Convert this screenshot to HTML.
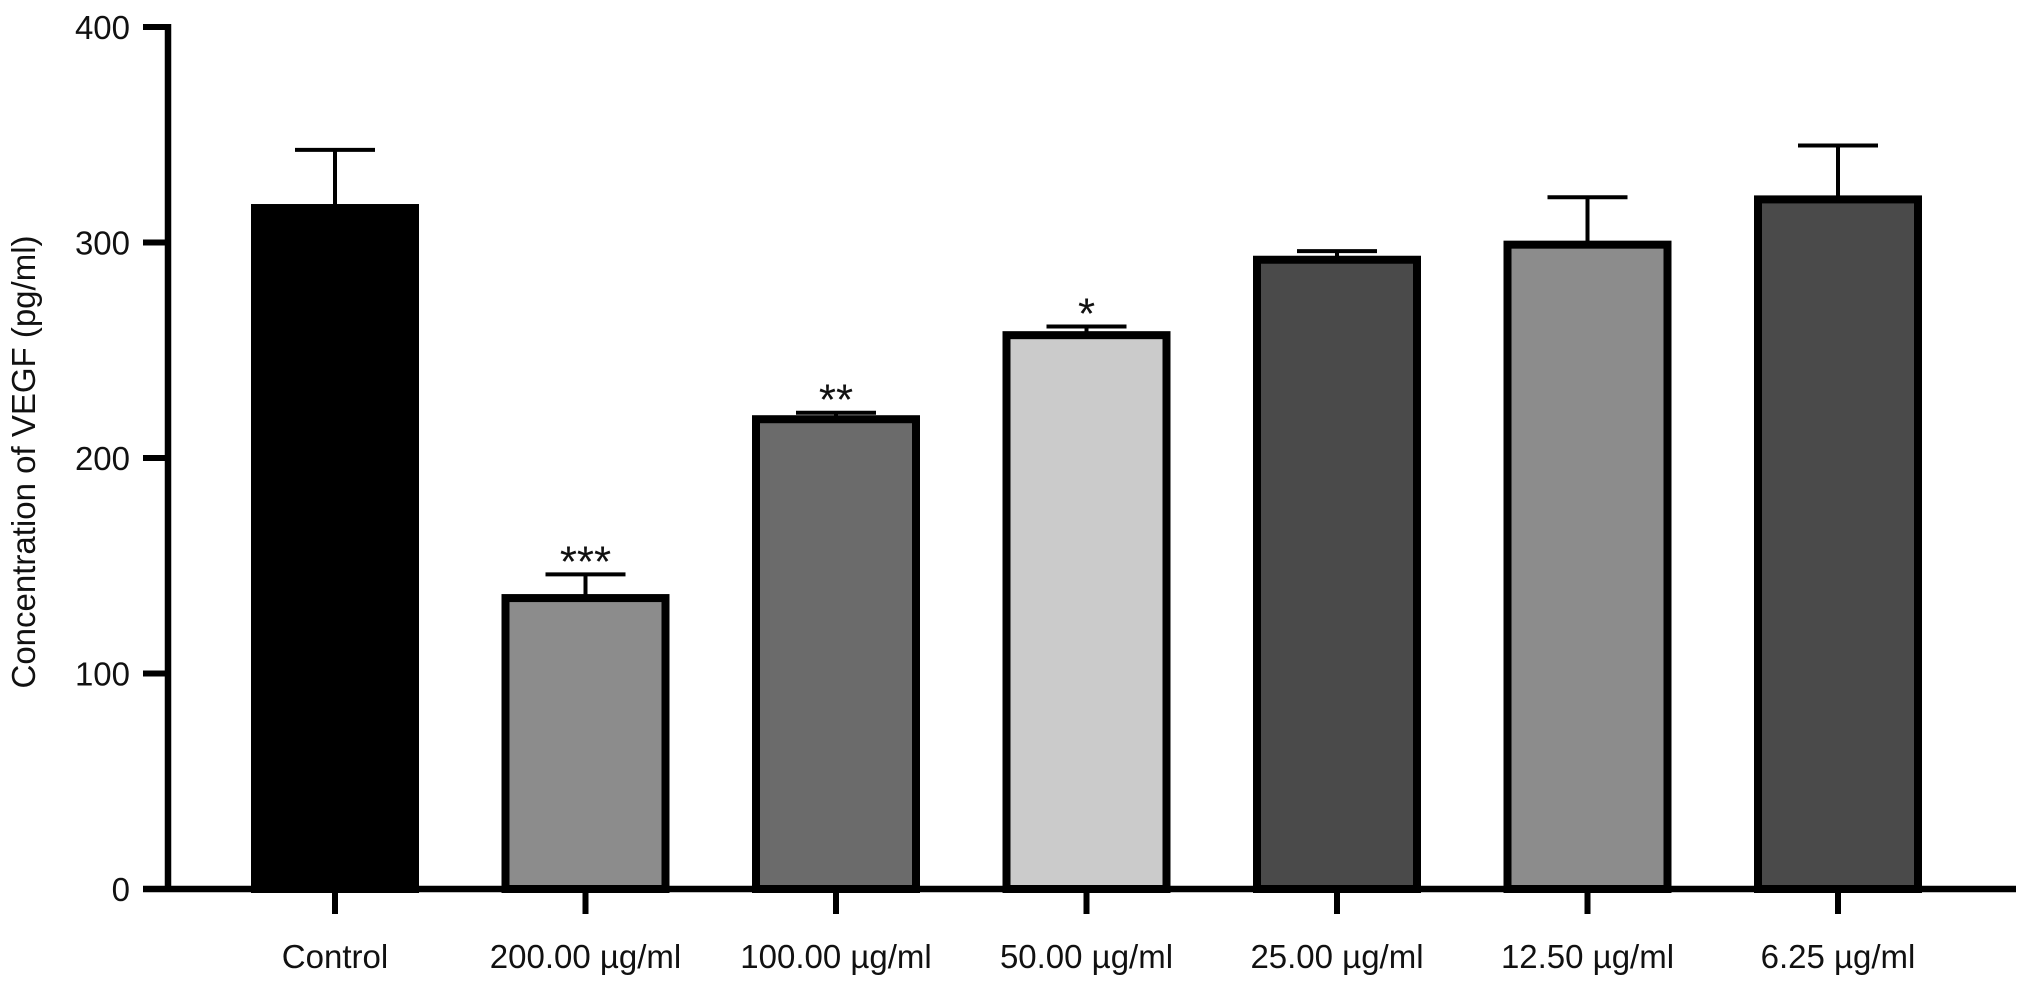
<!DOCTYPE html>
<html><head><meta charset="utf-8"><style>
html,body{margin:0;padding:0;background:#fff}
svg text{font-family:"Liberation Sans",Arial,sans-serif;fill:#111}
</style></head><body>
<svg id="chart" width="2032" height="982" xmlns="http://www.w3.org/2000/svg">
<g id="axes"></g><g id="bars"></g>
<text transform="translate(35,462) rotate(-90)" text-anchor="middle" font-size="33">Concentration of VEGF (pg/ml)</text>
</svg>
<script>
const categories=["Control","200.00 µg/ml","100.00 µg/ml","50.00 µg/ml","25.00 µg/ml","12.50 µg/ml","6.25 µg/ml"];
const values=[316,135,218,257,292,299,320];
const errors=[27,11,3,4,4,22,25];
const stars=["","***","**","*","","",""];
const fills=["#000","#8c8c8c","#6b6b6b","#cbcbcb","#4a4a4a","#8c8c8c","#4a4a4a"];
const yTicks=[0,100,200,300,400];
const NS="http://www.w3.org/2000/svg";
const y0=889,yTop=27,yMax=400;
const y=v=>y0-(y0-yTop)*v/yMax;
const x=i=>335+i*250.5;
const bw=160;
function mk(t,a,p){const e=document.createElementNS(NS,t);for(const k in a)e.setAttribute(k,a[k]);p.appendChild(e);return e;}
const ax=document.getElementById('axes'),bg=document.getElementById('bars');
const yl=mk('line',{x1:168,y1:y(yMax)-3,x2:168,y2:y0+3,stroke:'#000','stroke-width':6.5},ax);

const xl=mk('line',{x1:143,y1:y0,x2:2016,y2:y0,stroke:'#000','stroke-width':6.5},ax);

yTicks.forEach(t=>{
 const l=mk('line',{x1:143,y1:y(t),x2:168,y2:y(t),stroke:'#000','stroke-width':6},ax);
 
 const tx=mk('text',{x:130,y:y(t)+12,'text-anchor':'end','font-size':33},ax);tx.textContent=t;
 
});
categories.forEach((c,i)=>{
 const cx=x(i),top=y(values[i]),et=y(values[i]+errors[i]);
 const eb=mk('line',{x1:cx,y1:et,x2:cx,y2:top,stroke:'#000','stroke-width':4},bg);
 
 const ec=mk('line',{x1:cx-40,y1:et,x2:cx+40,y2:et,stroke:'#000','stroke-width':4},bg);
 
 const r=mk('rect',{x:cx-bw/2,y:top,width:bw,height:y0-top,fill:fills[i],stroke:'#000','stroke-width':8},bg);
 
 const tk=mk('line',{x1:cx,y1:y0,x2:cx,y2:y0+25,stroke:'#000','stroke-width':6},ax);
 
 const lb=mk('text',{x:cx,y:968,'text-anchor':'middle','font-size':33},ax);lb.textContent=c;
 
 if(stars[i]){const s=mk('text',{x:cx,y:et+2,'text-anchor':'middle','font-size':44},bg);s.textContent=stars[i];
 }
});
</script>
</body></html>
